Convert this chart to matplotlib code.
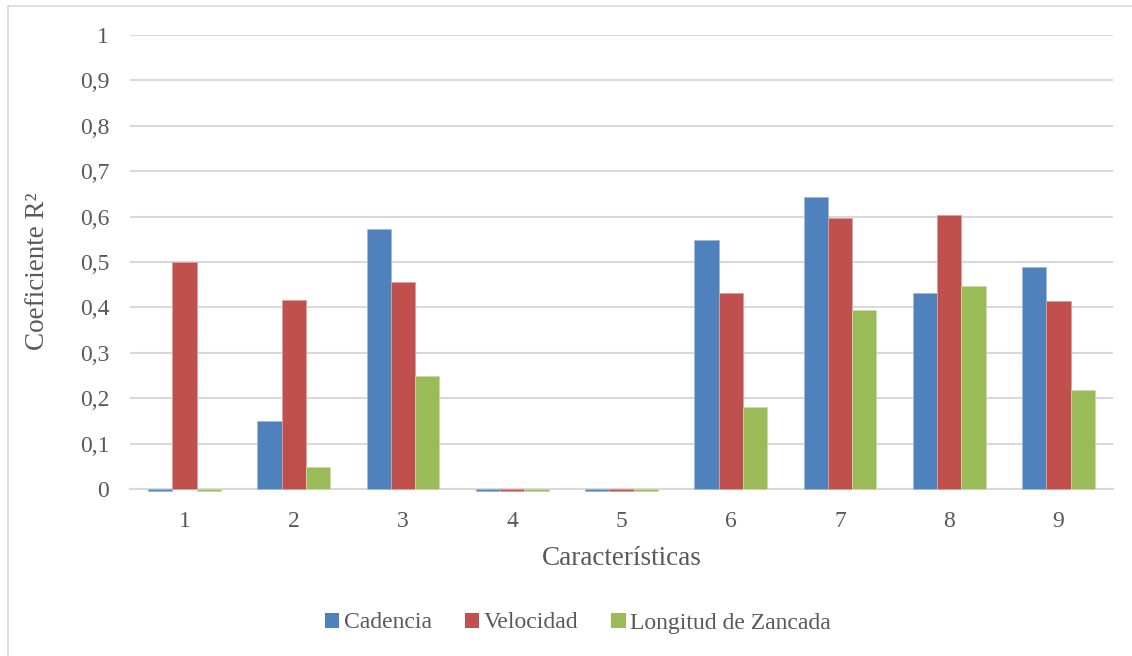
import matplotlib
matplotlib.use("Agg")
import matplotlib.pyplot as plt
from matplotlib.patches import Rectangle, Patch
from matplotlib.colors import to_rgb
import numpy as np

plt.rcParams['font.family'] = ['Liberation Serif', 'DejaVu Serif']

categories = ['1', '2', '3', '4', '5', '6', '7', '8', '9']
cadencia = [-0.004, 0.149, 0.572, -0.004, -0.004, 0.548, 0.643, 0.431, 0.489]
velocidad = [0.500, 0.417, 0.456, -0.004, -0.004, 0.432, 0.598, 0.604, 0.413]
longitud = [-0.004, 0.048, 0.248, -0.004, -0.004, 0.180, 0.394, 0.448, 0.217]
series_names = ['Cadencia', 'Velocidad', 'Longitud de Zancada']
colors = ['#4f81bd', '#c0504d', '#9bbb59']
yticks = [0, 0.1, 0.2, 0.3, 0.4, 0.5, 0.6, 0.7, 0.8, 0.9, 1]
ytick_labels = ['0', '0,1', '0,2', '0,3', '0,4', '0,5', '0,6', '0,7', '0,8', '0,9', '1']

W, H = 1132, 656
fig = plt.figure(figsize=(W / 100, H / 100), dpi=100)
fig.patch.set_facecolor('white')

# chart-area frame
fig.add_artist(Rectangle((8 / W, -0.02), 1.1, 1 - 6 / H + 0.02,
                         transform=fig.transFigure, fill=False,
                         edgecolor='#d9d9d9', linewidth=1.2))

left, right = 130 / W, 1113 / W
bottom, top = 1 - 489 / H, 1 - 35 / H
ax = fig.add_axes([left, bottom, right - left, top - bottom])

text_color = '#595959'
grid_color = '#d9d9d9'


def lighten(c, f=0.45):
    r, g, b = to_rgb(c)
    return (r + (1 - r) * f, g + (1 - g) * f, b + (1 - b) * f)


x = np.arange(len(categories))
bw = 0.222
for i, (vals, c, name) in enumerate(zip([cadencia, velocidad, longitud], colors, series_names)):
    ax.bar(x + (i - 1) * bw, vals, width=bw, color=c, edgecolor=lighten(c),
           linewidth=0.6, clip_on=False, zorder=3, label=name)

ax.set_xlim(-0.5, len(categories) - 0.5)
ax.set_ylim(0, 1)
ax.set_yticks(yticks)
ax.set_yticklabels(ytick_labels)
ax.set_xticks(x)
ax.set_xticklabels(categories)

ax.yaxis.grid(True, color=grid_color, linewidth=1.5, zorder=0)
ax.set_axisbelow(True)
for s in ['top', 'right', 'left']:
    ax.spines[s].set_visible(False)
ax.spines['bottom'].set_color(grid_color)
ax.spines['bottom'].set_linewidth(1.5)
ax.spines['bottom'].set_zorder(2)

ax.tick_params(axis='y', length=0, pad=15, labelsize=17, labelcolor=text_color)
ax.tick_params(axis='x', length=0, pad=16, labelsize=17, labelcolor=text_color)

ax.set_xlabel('Características', fontsize=19.5, color=text_color, labelpad=10)
ax.set_ylabel('Coeficiente R²', fontsize=19.5, color=text_color)
ax.yaxis.set_label_coords(-80 / ((right - left) * W), 0.48)

handles = [Patch(facecolor=c, edgecolor='none') for c in colors]
fig.legend(handles, series_names, loc='center', bbox_to_anchor=(578 / W, 1 - 623 / H),
           ncol=3, frameon=False, fontsize=17, labelcolor=text_color,
           handlelength=0.6, handleheight=0.6, handletextpad=0.2, columnspacing=1.4)

fig.savefig('out.png', dpi=100, facecolor='white')
